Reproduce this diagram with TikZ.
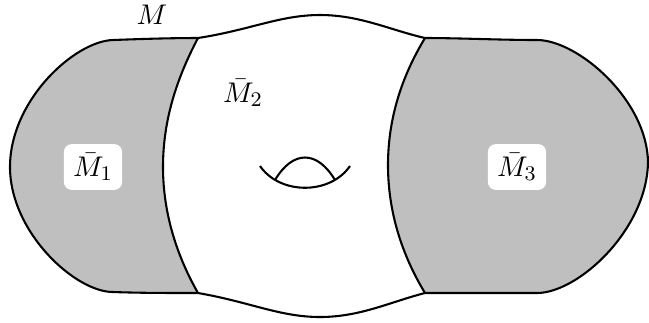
\documentclass[tikz,border=0pt]{standalone}
\begin{document}
\begin{tikzpicture}[x=0.385pt,y=-0.385pt,
  outline/.style={line width=0.8pt,line join=round},
  region/.style={fill=black!25},
  lbl/.style={fill=white,rounded corners=3pt,inner sep=3.5pt},
  txt/.style={font=\fontsize{10.95}{13}\selectfont}]
\useasboundingbox (0,0) rectangle (649,322);
% left region
\path[region] (198,38) .. controls (170,38) and (140,39) .. (113,40)
  .. controls (75,41) and (10,100) .. (10,167)
  .. controls (10,232) and (75,292) .. (113,292)
  .. controls (140,293) and (170,293) .. (198,293)
  .. controls (178,258) and (163,215) .. (163,167)
  .. controls (163,118) and (178,76) .. (198,38) -- cycle;
% right region
\path[region] (425,38) .. controls (460,38) and (500,40) .. (537,40)
  .. controls (578,40) and (647,100) .. (648,162)
  .. controls (647,230) and (578,293) .. (537,293)
  .. controls (500,293) and (460,293) .. (425,293)
  .. controls (402,255) and (388,212) .. (388,165)
  .. controls (388,118) and (402,76) .. (425,38) -- cycle;
% outer boundary
\draw[outline] (198,38) .. controls (170,38) and (140,39) .. (113,40)
  .. controls (75,41) and (10,100) .. (10,167)
  .. controls (10,232) and (75,292) .. (113,292)
  .. controls (140,293) and (170,293) .. (198,293)
  .. controls (250,302) and (280,317) .. (320,317)
  .. controls (360,317) and (390,302) .. (425,293)
  .. controls (460,293) and (500,293) .. (537,293)
  .. controls (578,293) and (647,230) .. (648,162)
  .. controls (647,100) and (578,40) .. (537,40)
  .. controls (500,40) and (460,38) .. (425,38)
  .. controls (390,30) and (360,15) .. (320,15)
  .. controls (280,15) and (250,30) .. (198,38) -- cycle;
% dividers
\draw[outline] (198,293) .. controls (178,258) and (163,215) .. (163,167)
  .. controls (163,118) and (178,76) .. (198,38);
\draw[outline] (425,293) .. controls (402,255) and (388,212) .. (388,165)
  .. controls (388,118) and (402,76) .. (425,38);
% handle
\draw[outline] (260,166) .. controls (280,195) and (330,195) .. (350,166);
\draw[outline] (275,180) .. controls (293,150) and (317,150) .. (335,180);
% labels
\node[txt] (m) at (152,15) {$M$};
\node[txt] (m2) at (243,93) {$\bar M_2$};
\node[lbl,txt] (m1) at (93,167) {$\bar M_1$};
\node[lbl,txt] (m3) at (517,167) {$\bar M_3$};
\end{tikzpicture}
\end{document}
